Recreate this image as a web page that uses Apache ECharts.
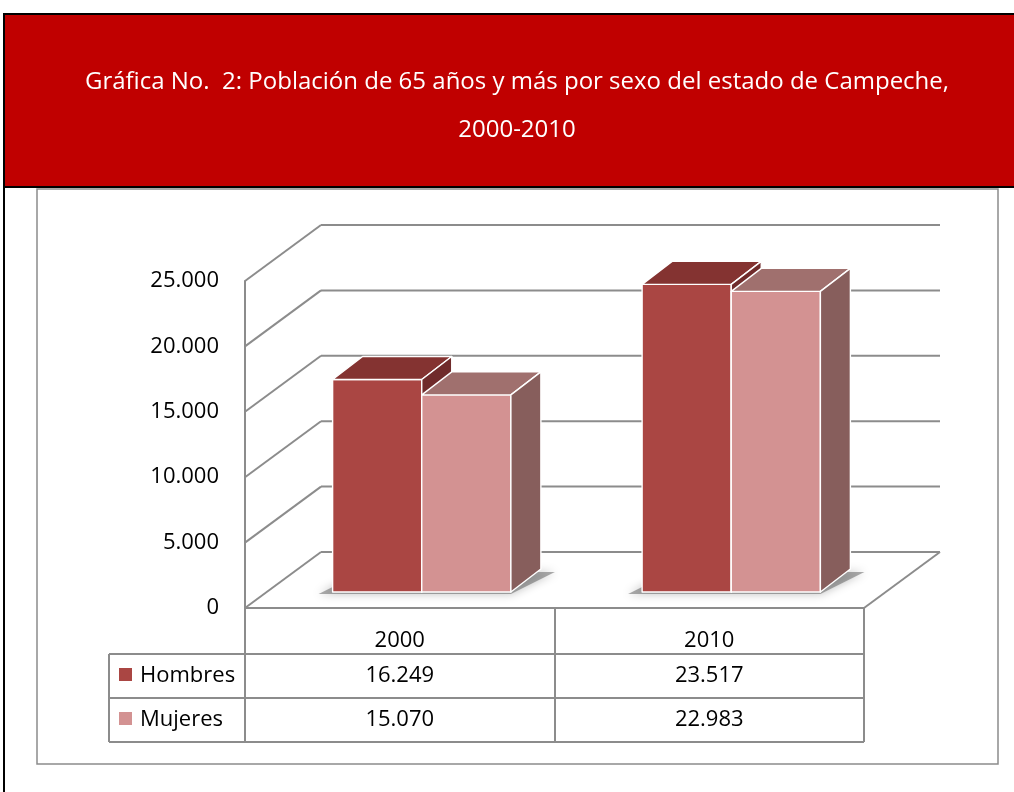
<!DOCTYPE html>
<html lang="es">
<head>
<meta charset="UTF-8">
<title>Población de 65 años y más, Campeche</title>
<style>
  html, body { margin: 0; padding: 0; background: #fff; }
  #chart { width: 1014px; height: 792px; }
</style>
</head>
<body>
<div id="chart"></div>
<script src="https://cdn.jsdelivr.net/npm/echarts@6/dist/echarts.min.js"></script>
<script>
  // datos de la gráfica
  const years = ['2000', '2010'];
  const seriesNames = ['Hombres', 'Mujeres'];
  const hombres = [16249, 23517];
  const mujeres = [15070, 22983];
  const yTicks = [0, 5000, 10000, 15000, 20000, 25000];
  const titleLines = ['Gráfica No.  2: Población de 65 años y más por sexo del estado de Campeche,', '2000-2010'];

  const values = [hombres, mujeres];
  const colors = [
    { front: '#AA4643', top: '#843331', side: '#702B2B' },
    { front: '#D39292', top: '#A0706E', side: '#875E5C' }
  ];
  const WALL = [76, -56];   // fondo de piso y pared
  const FRONT = [22, -16];  // cara frontal de las barras
  const DEPTH = [30, -23];  // grosor de las barras
  const gray = '#8C8C8C';
  const gridLine = { stroke: gray, lineWidth: 2 };
  const font = '"Open Sans", sans-serif';
  const fmt = v => String(v).replace(/\B(?=(\d{3})+(?!\d))/g, '.');

  const chart = echarts.init(document.getElementById('chart'));

  // pared del fondo, pared izquierda y piso
  function renderWall(params, api) {
    const cs = params.coordSys;
    const v = api.value(1);
    const y = api.coord([0, v])[1];
    const x0 = cs.x, x1 = cs.x + cs.width;
    const children = [
      { type: 'line', shape: { x1: x0, y1: y, x2: x0 + WALL[0], y2: y + WALL[1] }, style: gridLine },
      { type: 'line', shape: { x1: x0 + WALL[0], y1: y + WALL[1], x2: x1 + WALL[0], y2: y + WALL[1] }, style: gridLine }
    ];
    if (v === 0) {
      children.push({ type: 'line', shape: { x1: x1, y1: y, x2: x1 + WALL[0], y2: y + WALL[1] }, style: gridLine });
    }
    return { type: 'group', children };
  }

  // sombra bajo cada grupo de barras
  function renderShadow(params, api) {
    const base = api.coord([api.value(0), 0]);
    const w = api.size([1, 0])[0] * 0.288;
    const x0 = base[0] + FRONT[0] - w, x1 = base[0] + FRONT[0] + w;
    const yb = base[1] + FRONT[1];
    return {
      type: 'polygon',
      shape: { points: [[x0 - 14, yb + 2], [x1, yb + 2], [x1 + DEPTH[0] + 14, yb + DEPTH[1] + 3], [x0 + DEPTH[0], yb + DEPTH[1] + 3]] },
      style: { fill: 'rgba(90,90,90,0.5)', shadowBlur: 10, shadowColor: 'rgba(0,0,0,0.5)' },
      silent: true
    };
  }

  function makeBar(slot) {
    const c = colors[slot];
    return function (params, api) {
      const cat = api.value(0);
      const base = api.coord([cat, 0]);
      const top = api.coord([cat, api.value(1)]);
      const w = api.size([1, 0])[0] * 0.288;
      const x0 = base[0] + FRONT[0] + (slot - 1) * w;
      const x1 = x0 + w;
      const yb = base[1] + FRONT[1];
      const yt = top[1] + FRONT[1];
      const dx = DEPTH[0], dy = DEPTH[1];
      const edge = { stroke: '#fff', lineWidth: 1.4, lineJoin: 'round' };
      return {
        type: 'group',
        children: [
          { type: 'rect', shape: { x: x0, y: yt, width: w, height: yb - yt }, style: Object.assign({ fill: c.front }, edge) },
          { type: 'polygon', shape: { points: [[x0, yt], [x1, yt], [x1 + dx, yt + dy], [x0 + dx, yt + dy]] }, style: Object.assign({ fill: c.top }, edge) },
          { type: 'polygon', shape: { points: [[x1, yt], [x1 + dx, yt + dy], [x1 + dx, yb + dy], [x1, yb]] }, style: Object.assign({ fill: c.side }, edge) }
        ]
      };
    };
  }

  // tabla de datos con la leyenda
  function renderTableRow(params, api) {
    const cs = params.coordSys;
    const row = params.dataIndex;
    const left = cs.x - 136, right = cs.x + cs.width;
    const top = cs.y + cs.height + 46 + row * 44;
    const mid = top + 22;
    const children = [
      { type: 'line', shape: { x1: left, y1: top, x2: right, y2: top }, style: gridLine },
      { type: 'line', shape: { x1: left, y1: top, x2: left, y2: top + 44 }, style: gridLine },
      { type: 'rect', shape: { x: left + 10, y: mid - 8, width: 13, height: 13 }, style: { fill: colors[row].front } },
      { type: 'text', x: left + 31, y: mid, style: { text: seriesNames[row], font: '22px ' + font, fill: '#000', verticalAlign: 'middle' } }
    ];
    if (row === seriesNames.length - 1) {
      children.push({ type: 'line', shape: { x1: left, y1: top + 44, x2: right, y2: top + 44 }, style: gridLine });
    }
    years.forEach((y, i) => {
      const x = api.coord([i, 0])[0];
      children.push({ type: 'text', x: x, y: mid, style: { text: fmt(values[row][i]), font: '22px ' + font, fill: '#000', align: 'center', verticalAlign: 'middle' } });
    });
    return { type: 'group', children };
  }

  const option = {
    animation: false,
    backgroundColor: '#fff',
    graphic: [
      { type: 'rect', shape: { x: 4, y: 14, width: 1014, height: 173 }, style: { fill: '#C00000', stroke: '#000', lineWidth: 2 }, z: 0 },
      { type: 'line', shape: { x1: 4, y1: 187, x2: 4, y2: 792 }, style: { stroke: '#000', lineWidth: 2 } },
      { type: 'rect', shape: { x: 37, y: 189, width: 961, height: 575 }, style: { fill: 'none', stroke: gray, lineWidth: 1.5 } },
      { type: 'text', x: 517, y: 82, style: { text: titleLines[0], font: '24px ' + font, fill: '#fff', align: 'center', verticalAlign: 'middle' } },
      { type: 'text', x: 517, y: 130, style: { text: titleLines[1], font: '24px ' + font, fill: '#fff', align: 'center', verticalAlign: 'middle' } }
    ],
    grid: { left: 245, top: 281, width: 619, height: 327 },
    xAxis: {
      type: 'category',
      data: years,
      axisLine: { lineStyle: { color: gray, width: 2 } },
      axisTick: { show: true, length: 134, lineStyle: { color: gray, width: 2 } },
      axisLabel: { margin: 22, fontSize: 22, fontFamily: font, color: '#000' },
      splitLine: { show: false }
    },
    yAxis: {
      type: 'value',
      min: 0,
      max: 25000,
      interval: 5000,
      axisLine: { show: true, lineStyle: { color: gray, width: 2 } },
      axisTick: { show: false },
      axisLabel: { margin: 26, fontSize: 22, fontFamily: font, color: '#000', formatter: fmt },
      splitLine: { show: false }
    },
    series: [
      { type: 'custom', name: 'pared', renderItem: renderWall, data: yTicks.map(v => [0, v]), z: 1, silent: true },
      { type: 'custom', name: 'sombra', renderItem: renderShadow, data: years.map((y, i) => [i, 0]), z: 2, silent: true },
      { type: 'custom', name: seriesNames[0], renderItem: makeBar(0), data: hombres.map((v, i) => [i, v]), z: 3 },
      { type: 'custom', name: seriesNames[1], renderItem: makeBar(1), data: mujeres.map((v, i) => [i, v]), z: 4 },
      { type: 'custom', name: 'tabla', renderItem: renderTableRow, data: seriesNames.map((n, i) => [0, 0]), z: 5, silent: true }
    ]
  };

  chart.setOption(option);
</script>
</body>
</html>
